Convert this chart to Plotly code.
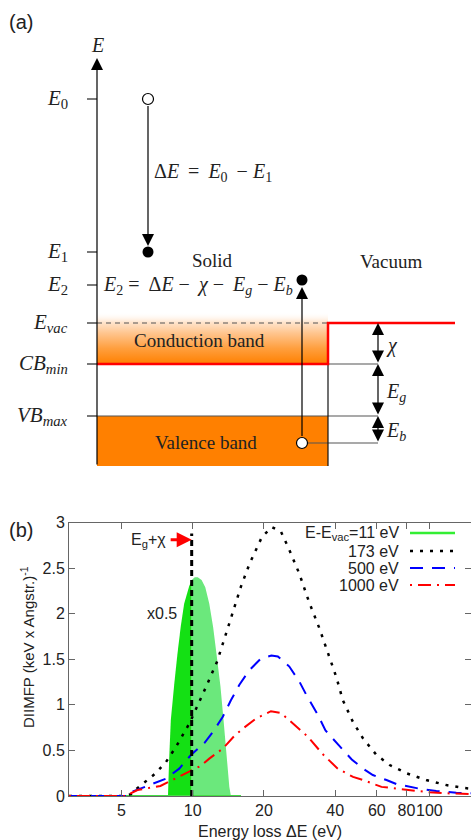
import math
import plotly.graph_objects as go

# ---------------- Panel (b) data ----------------
eloss_173 = [3, 5.0, 5.5, 5.8, 6.9, 7.7, 8.5, 9.7, 11.4, 12.7, 14.3, 16.0, 17.4, 19.6, 21.6, 23.6,
             25.6, 28.2, 31.1, 34.3, 37.5, 40.5, 43.1, 47.6, 52.5, 59.8, 68, 80, 97, 118, 138, 150]
diimfp_173 = [0, 0, 0.02, 0.08, 0.24, 0.37, 0.54, 0.80, 1.20, 1.48, 1.90, 2.30, 2.55, 2.84, 2.95, 2.90,
              2.70, 2.44, 2.12, 1.84, 1.55, 1.30, 1.05, 0.81, 0.63, 0.45, 0.34, 0.25, 0.175, 0.12, 0.09, 0.08]

eloss_500 = [3, 5.4, 5.6, 6.55, 7.7, 8.77, 9.83, 11.2, 12.3, 13.4, 14.5, 15.75, 17.35, 19.45, 21.5,
             22.9, 25.6, 28.3, 30.2, 33.8, 36.4, 41.3, 47.0, 52.5, 57.7, 65.9, 72.7, 90.9, 107, 130, 150]
diimfp_500 = [0, 0, 0.05, 0.12, 0.19, 0.30, 0.45, 0.58, 0.72, 0.87, 1.05, 1.22, 1.38, 1.51, 1.54,
              1.53, 1.42, 1.25, 1.11, 0.89, 0.72, 0.56, 0.40, 0.30, 0.23, 0.175, 0.13, 0.08, 0.055, 0.036, 0.03]

eloss_1000 = [3, 5.3, 5.47, 5.84, 7.3, 8.0, 9.2, 10.8, 11.75, 13.4, 15.0, 16.3, 18.5, 21.4, 23.6,
              25.6, 28.0, 30.7, 35.4, 41.0, 47.6, 52.5, 62.8, 75, 100, 118, 150]
diimfp_1000 = [0, 0, 0.03, 0.066, 0.11, 0.16, 0.24, 0.33, 0.41, 0.52, 0.66, 0.74, 0.85, 0.93, 0.91,
               0.83, 0.74, 0.65, 0.46, 0.30, 0.21, 0.175, 0.10, 0.077, 0.04, 0.03, 0.02]

# 11 eV curve (shown x0.5), split at Eg+chi
eloss_11_below = [7.86, 7.95, 8.08, 8.35, 8.62, 8.9, 9.2, 9.66, 9.9]
diimfp_11_below = [0, 0.4, 0.83, 1.22, 1.56, 1.86, 2.11, 2.30, 2.37]
eloss_11_above = [9.9, 10.2, 10.5, 10.9, 11.3, 11.75, 12.2, 12.6, 13.1, 13.5, 13.9, 14.28, 14.5]
diimfp_11_above = [2.37, 2.40, 2.40, 2.37, 2.29, 2.11, 1.85, 1.56, 1.20, 0.83, 0.45, 0.10, 0]
eloss_11_base = [5.0, 16.0]
diimfp_11_base = [0, 0]

eg_plus_chi = 9.9
eg_line_top = 2.88

x_tick_vals = [5, 10, 20, 40, 60, 80, 100]
x_tick_text = ["5", "10", "20", "40", "60", "80", "100"]
y_tick_vals = [0, 0.5, 1, 1.5, 2, 2.5, 3]
y_tick_text = ["0", "0.5", "1", "1.5", "2", "2.5", "3"]
legend_labels = ["E-E<sub>vac</sub>=11 eV", "173 eV", "500 eV", "1000 eV"]

# ---------------- Panel (a) data (energy levels, arbitrary units) ----------------
level_labels = ["<i>E</i><sub>0</sub>", "<i>E</i><sub>1</sub>", "<i>E</i><sub>2</sub>",
                "<i>E</i><sub><i>vac</i></sub>", "<i>CB</i><sub><i>min</i></sub>",
                "<i>VB</i><sub><i>max</i></sub>"]
level_values = [36.7, 21.4, 18.1, 14.3, 10.2, 5.0]
E0, E1, E2, EVAC, CBMIN, VBMAX = level_values
VB_BOTTOM = 0.0
CB_GLOW_TOP = 15.4
E_ELECTRON_VB = 2.3
E_ELECTRON_E2 = 18.6
AXIS_TOP = 40.8

W, H = 471, 840
MB = 44
PH = H - MB


def px(x):
    return x / W


def py(y):
    return (PH - y) / PH


SERIF = "Liberation Serif"
SANS = "Liberation Sans"
INK = "#222222"
TS = "\u2009"  # thin space

fig = go.Figure()

# ---------- Panel (a) ----------
xa = dict(xaxis="x2", yaxis="y2", showlegend=False, hoverinfo="skip")
x_left, x_iface, x_right, x_arrows = 97, 328, 455, 378

fig.add_trace(go.Scatter(
    x=[x_left, x_iface, x_iface, x_left, x_left],
    y=[CBMIN, CBMIN, CB_GLOW_TOP, CB_GLOW_TOP, CBMIN],
    mode="none", fill="toself",
    fillgradient=dict(type="vertical",
                      colorscale=[[0, "#ff8000"], [0.3, "#ff9f3e"], [0.6, "#ffc690"],
                                  [0.8, "#ffe4cc"], [1, "rgba(255,255,255,0)"]]),
    **xa))
fig.add_trace(go.Scatter(
    x=[x_left, x_iface, x_iface, x_left, x_left],
    y=[VB_BOTTOM, VB_BOTTOM, VBMAX, VBMAX, VB_BOTTOM],
    mode="none", fill="toself", fillcolor="#ff8000", **xa))
fig.add_trace(go.Scatter(x=[x_left, x_iface], y=[EVAC, EVAC], mode="lines",
                         line=dict(color="#555555", width=1.2, dash="5px,4px"), **xa))
fig.add_trace(go.Scatter(
    x=[x_left, x_arrows, None, x_iface, x_arrows, None, 302, x_arrows],
    y=[VBMAX, VBMAX, None, CBMIN, CBMIN, None, E_ELECTRON_VB, E_ELECTRON_VB],
    mode="lines", line=dict(color="#555555", width=1.2), **xa))
fig.add_trace(go.Scatter(x=[x_iface, x_iface], y=[EVAC, VB_BOTTOM], mode="lines",
                         line=dict(color="#111111", width=1.2), **xa))
fig.add_trace(go.Scatter(x=[x_left, x_iface, x_iface, x_right], y=[CBMIN, CBMIN, EVAC, EVAC],
                         mode="lines", line=dict(color="#ff0000", width=2.5), **xa))
tx, ty = [], []
for v in level_values:
    tx += [87, x_left, None]
    ty += [v, v, None]
fig.add_trace(go.Scatter(x=tx, y=ty, mode="lines", line=dict(color="#222222", width=1.2), **xa))
fig.add_trace(go.Scatter(x=[148, 302], y=[E0, E_ELECTRON_VB], mode="markers",
                         marker=dict(size=11, color="white", line=dict(color="black", width=1.2)), **xa))
fig.add_trace(go.Scatter(x=[148, 302], y=[E1, E_ELECTRON_E2], mode="markers",
                         marker=dict(size=11, color="black"), **xa))

annotations = []


def arrow(x0, y0, x1, y1, both=False):
    annotations.append(dict(x=x1, y=y1, ax=x0, ay=y0, xref="x2", yref="y2", axref="x2", ayref="y2",
                            text="", showarrow=True, arrowhead=2, arrowsize=2.0, arrowwidth=1.2,
                            arrowcolor="black", arrowside="end+start" if both else "end",
                            standoff=0, startstandoff=0))


arrow(x_left, VB_BOTTOM, x_left, AXIS_TOP)
arrow(148, E0 - 0.55, 148, E1 + 0.6)
arrow(302, E_ELECTRON_VB + 0.55, 302, E_ELECTRON_E2 - 0.7)
arrow(x_arrows, CBMIN, x_arrows, EVAC, both=True)
arrow(x_arrows, VBMAX, x_arrows, CBMIN, both=True)
arrow(x_arrows, E_ELECTRON_VB, x_arrows, VBMAX, both=True)


def txt_a(x, y, s, xanchor="center", size=19):
    annotations.append(dict(x=x, y=y, xref="x2", yref="y2", text=s, showarrow=False,
                            xanchor=xanchor, yanchor="middle",
                            font=dict(family=SERIF, size=size, color=INK)))


for lab, v in zip(level_labels, level_values):
    txt_a(70, v, lab, xanchor="right", size=21)
txt_a(x_left, 42.1, "<i>E</i>", size=20)
txt_a(152, 29.4, f"Δ<i>E</i>{TS} ={TS} <i>E</i><sub>0</sub>{TS} − <i>E</i><sub>1</sub>",
      xanchor="left", size=20)
txt_a(101, E2, f"<i>E</i><sub>2</sub> ={TS} Δ<i>E</i> −{TS} <i>χ</i> −{TS} "
               f"<i>E</i><sub><i>g</i></sub> − <i>E</i><sub><i>b</i></sub>",
      xanchor="left", size=20)
txt_a(212, 20.6, "Solid")
txt_a(391, 20.5, "Vacuum")
txt_a(199, 12.6, "Conduction band")
txt_a(206, 2.4, "Valence band")
txt_a(384, 12.1, "<i>χ</i>", xanchor="left", size=20)
txt_a(384, 7.4, "<i>E</i><sub><i>g</i></sub>", xanchor="left", size=20)
txt_a(384, 3.5, "<i>E</i><sub><i>b</i></sub>", xanchor="left", size=20)

annotations.append(dict(x=px(7), y=py(22), xref="paper", yref="paper", text="(a)", showarrow=False,
                        xanchor="left", yanchor="middle", font=dict(family=SANS, size=20, color=INK)))

# ---------- Panel (b) ----------
fig.add_trace(go.Scatter(x=eloss_11_below, y=diimfp_11_below, mode="none", fill="tozeroy",
                         fillcolor="#14e014", showlegend=False, hoverinfo="skip"))
fig.add_trace(go.Scatter(x=eloss_11_above, y=diimfp_11_above, mode="none", fill="tozeroy",
                         fillcolor="#6be87c", showlegend=False, hoverinfo="skip"))
fig.add_trace(go.Scatter(x=eloss_11_base, y=diimfp_11_base, mode="lines",
                         line=dict(color="#44dd44", width=2), showlegend=False))
fig.add_trace(go.Scatter(x=eloss_173, y=diimfp_173, mode="lines",
                         line=dict(color="black", width=2.5, dash="3px,7px"), showlegend=False))
fig.add_trace(go.Scatter(x=eloss_500, y=diimfp_500, mode="lines",
                         line=dict(color="#0000ff", width=2, dash="13px,9px"), showlegend=False))
fig.add_trace(go.Scatter(x=eloss_1000, y=diimfp_1000, mode="lines",
                         line=dict(color="#ff0000", width=2, dash="2px,6px,13px,6px"), showlegend=False))
fig.add_trace(go.Scatter(x=[eg_plus_chi, eg_plus_chi], y=[0, eg_line_top], mode="lines",
                         line=dict(color="black", width=3, dash="6px,4px"), showlegend=False))

annotations.append(dict(x=math.log10(9.9), y=2.81, ax=math.log10(7.95), ay=2.81, xref="x", yref="y",
                        axref="x", ayref="y", text="", showarrow=True, arrowhead=2, arrowsize=1,
                        arrowwidth=3, arrowcolor="#ff0000", standoff=0))
annotations.append(dict(x=px(168), y=py(541), xref="paper", yref="paper", text="E<sub>g</sub>+χ",
                        showarrow=False, xanchor="right", yanchor="middle",
                        font=dict(family=SANS, size=16, color=INK)))
annotations.append(dict(x=px(162), y=py(613), xref="paper", yref="paper", text="x0.5",
                        showarrow=False, xanchor="center", yanchor="middle",
                        font=dict(family=SANS, size=16, color=INK)))
annotations.append(dict(x=px(7), y=py(530), xref="paper", yref="paper", text="(b)", showarrow=False,
                        xanchor="left", yanchor="middle", font=dict(family=SANS, size=20, color=INK)))
annotations.append(dict(x=px(27), y=py(647), xref="paper", yref="paper",
                        text="DIIMFP (keV x Angstr.)<sup>-1</sup>", textangle=-90, showarrow=False,
                        xanchor="center", yanchor="middle", font=dict(family=SANS, size=15, color=INK)))

shapes = []
leg_y = [533, 551, 568, 585]
leg_style = [dict(color="#33ee33", width=2.5, dash="solid"),
             dict(color="black", width=2.5, dash="3px,7px"),
             dict(color="#0000ff", width=2, dash="13px,9px"),
             dict(color="#ff0000", width=2, dash="2px,6px,13px,6px")]
for lab, yy, st in zip(legend_labels, leg_y, leg_style):
    annotations.append(dict(x=px(401), y=py(yy), xref="paper", yref="paper", text=lab, showarrow=False,
                            xanchor="right", yanchor="middle", font=dict(family=SANS, size=16, color=INK)))
    shapes.append(dict(type="line", xref="paper", yref="paper", x0=px(410), x1=px(455),
                       y0=py(yy), y1=py(yy), line=st))

axis_common = dict(showgrid=False, zeroline=False, showline=True, linecolor="#666666", linewidth=1,
                   ticks="inside", ticklen=6, tickcolor="#666666", mirror="ticks",
                   tickfont=dict(family=SANS, size=16, color=INK))

fig.update_layout(
    width=W, height=H,
    margin=dict(l=0, r=0, t=0, b=MB, autoexpand=False),
    paper_bgcolor="white", plot_bgcolor="white",
    showlegend=False,
    xaxis=dict(type="log", range=[math.log10(3), math.log10(150)], domain=[69 / W, 1],
               tickvals=x_tick_vals, ticktext=x_tick_text, tickangle=0, anchor="y",
               title=dict(text="Energy loss ΔE (eV)", font=dict(family=SANS, size=16, color=INK),
                          standoff=10),
               automargin=False, **axis_common),
    yaxis=dict(range=[0, 3], domain=[0, (PH - 522.5) / PH], tickvals=y_tick_vals, ticktext=y_tick_text,
               anchor="x", automargin=False, **axis_common),
    xaxis2=dict(range=[0, W], domain=[0, 1], anchor="y2", visible=False, fixedrange=True),
    yaxis2=dict(range=[(466 - 480) / 10, 46.6], domain=[(PH - 480) / PH, 1], anchor="x2",
                visible=False, fixedrange=True),
    annotations=annotations,
    shapes=shapes,
)

fig.write_html("out.html", config={"displayModeBar": False},
               post_script="document.body.style.margin='0';document.body.style.overflow='hidden';")
